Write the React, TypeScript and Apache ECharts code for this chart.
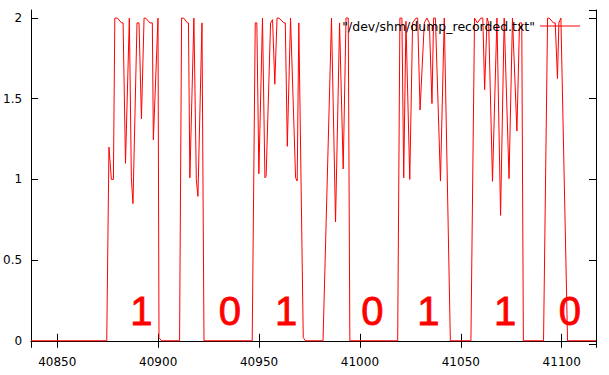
import React, { useEffect, useRef } from "react";
import * as echarts from "echarts";

const seriesName = '"/dev/shm/dump_recorded.txt"';

const signalX = [
  40837, 40874.5, 40875.6, 40876.8, 40877.8, 40878.5, 40879.8, 40881.8, 40882.6, 40883.8,
  40885.7, 40886.7, 40887.5, 40889.5, 40890.5, 40891.7, 40893, 40893.8, 40895.9, 40897.1,
  40897.6, 40899.9, 40900.4, 40901.7, 40910.6, 40911.6, 40912.6, 40914.5, 40915, 40915.7,
  40917.7, 40918.9, 40919.7, 40921.7, 40922.7, 40946.6, 40948.1, 40948.9, 40949.9, 40951.7,
  40952.9, 40953.5, 40955.7, 40956.7, 40957.8, 40958.9, 40959.9, 40962.3, 40963, 40964,
  40965.6, 40968.1, 40968.9, 40969.7, 40971.9, 40973, 40981.7, 40985.9, 40987.9, 40989.9,
  40991.7, 40993.1, 40994.2, 40995, 41018.7, 41019.8, 41020.8, 41021.7, 41022.8, 41024.7,
  41026.1, 41027.8, 41028.6, 41029.8, 41031.9, 41033.2, 41034.4, 41035.7, 41036.5, 41037.4,
  41039.9, 41041.8, 41044.8, 41055, 41056.8, 41058.2, 41059.9, 41060.9, 41061.8, 41063,
  41063.8, 41065.7, 41067.9, 41069.7, 41071.5, 41073.9, 41075.6, 41077.8, 41079.1, 41080.2,
  41081, 41091, 41093, 41093.8, 41095.9, 41096.8, 41097.9, 41098.6, 41099.6, 41102.9,
  41117,
];

const signalY = [
  0, 0, 1.2, 1.0, 1.0, 2.0, 2.0, 1.97, 1.97, 1.1,
  2.0, 1.01, 0.85, 1.97, 1.97, 1.375, 2.0, 2.0, 1.97, 1.97,
  1.245, 2.0, 0.02, 0, 0, 2.0, 2.0, 1.97, 1.97, 1.01,
  2.0, 1.0, 0.895, 1.97, 0, 0, 1.97, 1.97, 1.035, 2.0,
  1.01, 1.02, 1.97, 1.99, 1.59, 2.0, 2.0, 1.97, 1.97, 1.205,
  2.0, 1.01, 0.99, 1.97, 0.02, 0, 0, 2.0, 0.736, 1.97,
  1.065, 2.0, 2.0, 0, 0, 2.0, 2.0, 1.01, 1.98, 1.0,
  1.97, 2.0, 2.0, 1.43, 1.97, 2.0, 1.97, 1.47, 2.0, 2.0,
  0.99, 2.0, 0, 0, 2.0, 1.97, 2.0, 2.0, 1.556, 2.0,
  1.97, 0.988, 2.0, 0.777, 2.0, 1.005, 2.0, 1.3, 1.97, 1.97,
  0, 0, 2.0, 2.0, 1.97, 1.97, 1.625, 1.97, 2.0, 0,
  0,
];

const bitX = [40891.7, 40935.5, 40963.4, 41006.2, 41033.9, 41071.9, 41104];
const bitY = [0.186, 0.186, 0.186, 0.186, 0.186, 0.186, 0.186];
const bitText = ["1", "0", "1", "0", "1", "1", "0"];

const X_MIN = 40837;
const X_MAX = 41117;
const Y_MIN = -0.02;
const Y_MAX = 2.05;

export default function App() {
  const ref = useRef<HTMLDivElement>(null);

  useEffect(() => {
    if (!ref.current) return;
    const chart = echarts.init(ref.current, undefined, { renderer: "svg" });
    const font = "DejaVu Sans";
    const tickFmt = (step: number) => (v: number) => {
      const r = Math.round(v / step) * step;
      if (Math.abs(r - v) > 1e-6) return "";
      return String(+r.toFixed(3));
    };
    const axisLine = { show: true, lineStyle: { color: "#000", width: 1 } };
    const axisTick = { show: true, inside: true, length: 7, lineStyle: { color: "#000", width: 1 } };

    chart.setOption({
      animation: false,
      backgroundColor: "#fff",
      grid: { left: 31, right: 13, top: 10, bottom: 31, containLabel: false },
      legend: {
        show: true,
        data: [seriesName],
        right: 29,
        top: 19,
        padding: 0,
        icon: "rect",
        itemWidth: 40,
        itemHeight: 1,
        align: "right",
        itemStyle: { color: "#ff0000", borderWidth: 0 },
        textStyle: { fontFamily: font, fontSize: 12.5, color: "#000", lineHeight: 14 },
      },
      xAxis: [
        {
          type: "value",
          min: X_MIN,
          max: X_MAX,
          position: "bottom",
          axisLine,
          axisTick,
          splitLine: { show: false },
          axisLabel: {
            show: true,
            margin: 12,
            fontFamily: font,
            fontSize: 12,
            color: "#000",
            showMinLabel: false,
            showMaxLabel: false,
            formatter: tickFmt(50),
          },
        },
        {
          type: "value",
          min: X_MIN,
          max: X_MAX,
          position: "top",
          axisLine,
          axisTick,
          splitLine: { show: false },
          axisLabel: { show: false },
        },
      ],
      yAxis: [
        {
          type: "value",
          min: Y_MIN,
          max: Y_MAX,
          position: "left",
          axisLine,
          axisTick,
          splitLine: { show: false },
          axisLabel: {
            show: true,
            margin: 9,
            fontFamily: font,
            fontSize: 12,
            color: "#000",
            showMinLabel: false,
            showMaxLabel: false,
            formatter: tickFmt(0.5),
          },
        },
        {
          type: "value",
          min: Y_MIN,
          max: Y_MAX,
          position: "right",
          axisLine,
          axisTick,
          splitLine: { show: false },
          axisLabel: { show: false },
        },
      ],
      series: [
        {
          name: seriesName,
          type: "line",
          xAxisIndex: 0,
          yAxisIndex: 0,
          data: signalX.map((x, i) => [x, signalY[i]]),
          symbol: "none",
          showSymbol: false,
          lineStyle: { color: "#ff0000", width: 1 },
          itemStyle: { color: "#ff0000" },
          emphasis: { disabled: true },
          z: 3,
        },
        {
          name: "bits",
          type: "custom",
          xAxisIndex: 0,
          yAxisIndex: 0,
          data: bitX.map((x, i) => [x, bitY[i]]),
          encode: { x: 0, y: 1 },
          clip: false,
          renderItem: (params: any, api: any) => {
            const p = api.coord([api.value(0), api.value(1)]);
            return {
              type: "text",
              x: p[0],
              y: p[1],
              style: {
                text: bitText[params.dataIndex],
                fill: "#ff0000",
                stroke: "#ff0000",
                lineWidth: 0.8,
                fontSize: 40,
                fontFamily: "Liberation Sans",
                align: "center",
                verticalAlign: "middle",
              },
            };
          },
          z: 4,
        },
      ],
    });

    return () => {
      chart.dispose();
    };
  }, []);

  return (
    <div
      ref={ref}
      style={{ position: "fixed", left: 0, top: 0, width: 609, height: 375, background: "#fff" }}
    />
  );
}
